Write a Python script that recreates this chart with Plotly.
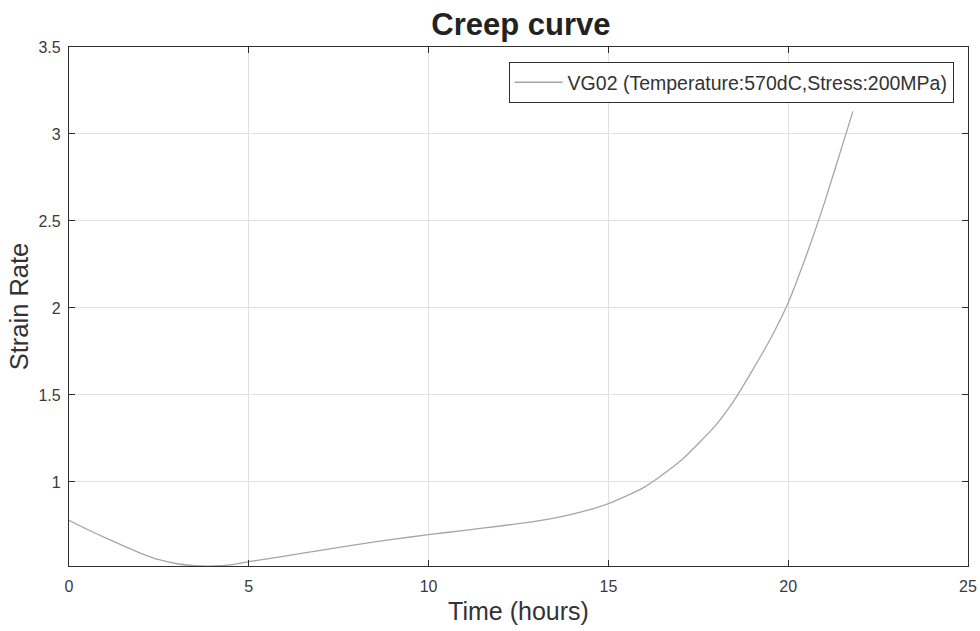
import plotly.graph_objects as go

time_hours = [0, 0.5, 1, 1.5, 2, 2.5, 3, 3.5, 4, 4.5, 5, 6, 7, 8, 9, 10,
              11, 12, 13, 14, 15, 16, 17, 18, 18.5, 19, 19.5, 20, 20.5,
              21, 21.5, 21.8]
strain_rate = [0.78, 0.728, 0.68, 0.634, 0.59, 0.553, 0.53, 0.519, 0.517, 0.524,
               0.542, 0.574, 0.607, 0.64, 0.67, 0.697, 0.722, 0.747, 0.775, 0.815,
               0.875, 0.97, 1.12, 1.33, 1.47, 1.64, 1.82, 2.03, 2.3, 2.6, 2.93, 3.13]
series_name = "VG02 (Temperature:570dC,Stress:200MPa)"
x_ticks = [0, 5, 10, 15, 20, 25]
y_ticks = [1, 1.5, 2, 2.5, 3, 3.5]

font_family = "Liberation Sans, Arial, sans-serif"
axis_color = "#2e2e2e"
grid_color = "#e0e0e0"

fig = go.Figure()
fig.add_trace(go.Scatter(
    x=time_hours, y=strain_rate, mode="lines", name=series_name,
    line=dict(color="#a6a6a6", width=1.3, shape="spline", smoothing=0.6),
))

common_axis = dict(
    showline=True, linecolor=axis_color, linewidth=1.3, mirror="ticks",
    ticks="inside", ticklen=6, tickcolor=axis_color, tickwidth=1.3,
    showgrid=True, gridcolor=grid_color, gridwidth=1, zeroline=False,
    automargin=False,
    tickfont=dict(family=font_family, size=16, color="#3a3a3a"),
)

fig.update_layout(
    width=980, height=631,
    margin=dict(l=69, r=12, t=47, b=65),
    paper_bgcolor="white", plot_bgcolor="white",
    title=dict(text="<b>Creep curve</b>", xref="container", x=0.5316, xanchor="center",
               yref="container", y=0.962, yanchor="middle",
               font=dict(family=font_family, size=31, color="#222222")),
    xaxis=dict(range=[0, 25], tickvals=x_ticks, ticklabelstandoff=6,
               title=dict(text="Time (hours)", font=dict(family=font_family, size=25, color="#333333"),
                          standoff=8),
               **common_axis),
    yaxis=dict(range=[0.517, 3.5], tickvals=y_ticks, ticklabelstandoff=4,
               title=dict(text="Strain Rate", font=dict(family=font_family, size=25.5, color="#333333"),
                          standoff=2),
               **common_axis),
    legend=dict(x=0.984, y=0.971, xanchor="right", yanchor="top",
                bgcolor="white", bordercolor=axis_color, borderwidth=1,
                itemwidth=48,
                font=dict(family=font_family, size=19.5, color="#333333")),
    showlegend=True,
)

fig.write_html("out.html")
